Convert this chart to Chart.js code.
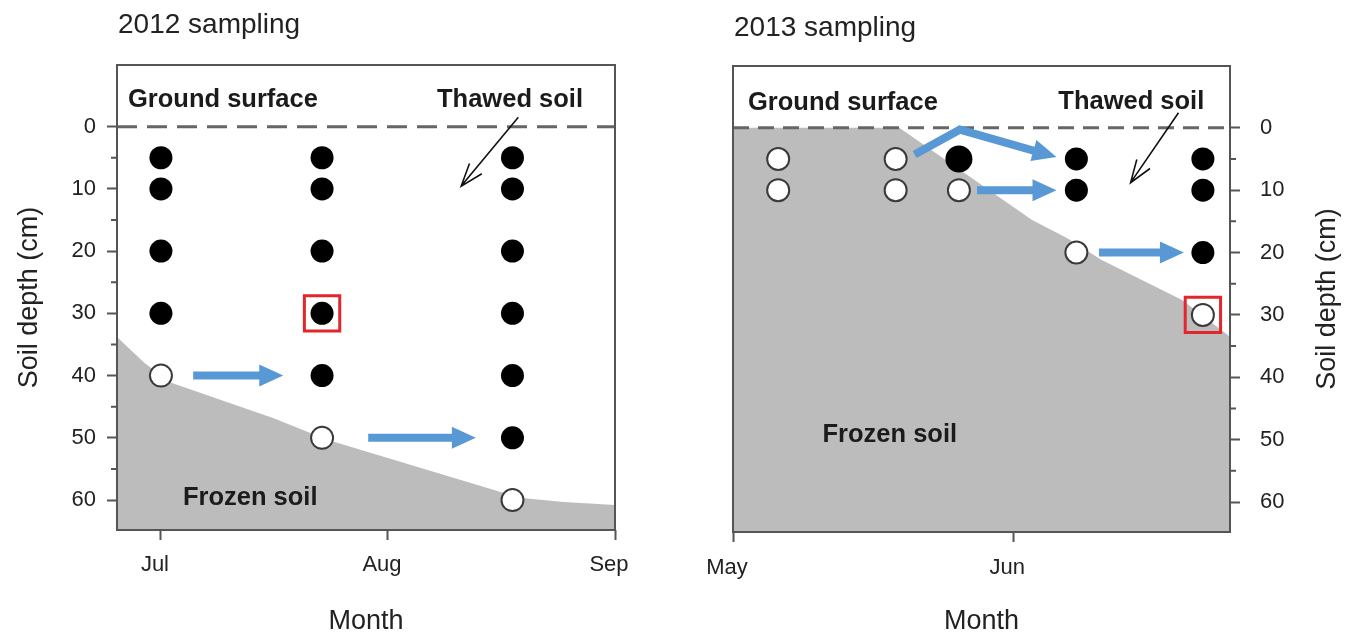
<!DOCTYPE html>
<html>
<head>
<meta charset="utf-8">
<title>Soil thaw sampling 2012 / 2013</title>
<script src="https://cdn.jsdelivr.net/npm/chart.js@4.4.1/dist/chart.umd.min.js"></script>
<style>
  body { margin: 0; background: #fff; }
  #wrap { position: relative; width: 1358px; height: 636px; }
  canvas { position: absolute; top: 0; }
  #chart2012 { left: 0; }
  #chart2013 { left: 680px; }
</style>
</head>
<body>
<div id="wrap">
  <canvas id="chart2012" width="680" height="636"></canvas>
  <canvas id="chart2013" width="678" height="636"></canvas>
</div>
<script>
// x values are day of year, y values are soil depth in cm
const depthTicks = [0, 10, 20, 30, 40, 50, 60];
const minorDepthTicks = [5, 15, 25, 35, 45, 55];
const groundDepth = 0;

// 2012 (leap year): Jul 1 = 183
const monthTicks2012 = [183, 214, 245];
const monthLabels2012 = ['Jul', 'Aug', 'Sep'];
const sampleDays2012 = [183, 205, 231]; // Jul 1, Jul 23, Aug 18
const thawedDepths2012 = [[5, 10, 20, 30], [5, 10, 20, 30, 40], [5, 10, 20, 30, 40, 50]];
const frozenDepths2012 = [[40], [50], [60]];
const highlight2012 = [[205, 30]];
const frostDays2012 = [177, 180.8, 184.5, 198.3, 205.7, 232, 238, 245];
const frostDepths2012 = [33.8, 38, 41.2, 46.8, 50.3, 59.6, 60.3, 60.8];

// 2013: May 1 = 121
const monthTicks2013 = [121, 152];
const monthLabels2013 = ['May', 'Jun'];
const sampleDays2013 = [126, 139, 146, 159, 173]; // May 6, May 19, May 26, Jun 8, Jun 22
const thawedDepths2013 = [[], [], [5], [5, 10], [5, 10, 20]];
const frozenDepths2013 = [[5, 10], [5, 10], [10], [20], [30]];
const highlight2013 = [[173, 30]];
const enlarged2013 = [146, 5];
const frostDays2013 = [121, 139.4, 154.1, 158, 161.8, 170.7, 176];
const frostDepths2013 = [0, 0, 14.8, 17.7, 21.2, 27.6, 33.5];

const FONT = '"Liberation Sans", Arial, Helvetica, sans-serif';
Chart.defaults.font.family = FONT;

function toPoints(days, depthLists) {
  const pts = [];
  days.forEach((d, i) => depthLists[i].forEach(z => pts.push({ x: d, y: z })));
  return pts;
}

function drawBlockArrow(ctx, pts, color) {
  const n = pts.length;
  const [tx, ty] = pts[n - 1];
  const [px, py] = pts[n - 2];
  const ang = Math.atan2(ty - py, tx - px);
  const headLen = 24, headHalf = 11;
  const bx = tx - headLen * Math.cos(ang), by = ty - headLen * Math.sin(ang);
  ctx.strokeStyle = color;
  ctx.fillStyle = color;
  ctx.lineWidth = 8;
  ctx.lineJoin = 'miter';
  ctx.lineCap = 'butt';
  ctx.beginPath();
  ctx.moveTo(pts[0][0], pts[0][1]);
  for (let i = 1; i < n - 1; i++) ctx.lineTo(pts[i][0], pts[i][1]);
  ctx.lineTo(bx + Math.cos(ang), by + Math.sin(ang));
  ctx.stroke();
  ctx.beginPath();
  ctx.moveTo(tx, ty);
  ctx.lineTo(bx + headHalf * Math.sin(ang), by - headHalf * Math.cos(ang));
  ctx.lineTo(bx - headHalf * Math.sin(ang), by + headHalf * Math.cos(ang));
  ctx.closePath();
  ctx.fill();
}

function drawLineArrow(ctx, a, b) {
  const ang = Math.atan2(a[1] - b[1], a[0] - b[0]);
  const arm = 24, spread = 0.34;
  ctx.strokeStyle = '#111';
  ctx.lineWidth = 1.6;
  ctx.beginPath();
  ctx.moveTo(a[0], a[1]);
  ctx.lineTo(b[0], b[1]);
  ctx.moveTo(b[0] + arm * Math.cos(ang - spread), b[1] + arm * Math.sin(ang - spread));
  ctx.lineTo(b[0], b[1]);
  ctx.lineTo(b[0] + arm * Math.cos(ang + spread), b[1] + arm * Math.sin(ang + spread));
  ctx.stroke();
}

// texts, arrows, frame and minor ticks for one panel
function panelDecor(cfg) {
  return {
    id: 'panelDecor',
    afterDatasetsDraw(chart) {
      const { ctx, scales: { x, y } } = chart;
      const px = p => [x.getPixelForValue(p[0]), y.getPixelForValue(p[1])];
      ctx.save();
      cfg.blueArrows.forEach(a => drawBlockArrow(ctx, a.map(px), '#5899d5'));
      cfg.blackArrows.forEach(a => drawLineArrow(ctx, px(a[0]), px(a[1])));
      ctx.fillStyle = '#1b1b1b';
      ctx.font = 'bold 25.5px ' + FONT;
      ctx.textBaseline = 'alphabetic';
      ctx.textAlign = 'left';
      cfg.labels.forEach(t => {
        const [lx, ly] = px([t.x, t.y]);
        ctx.fillText(t.text, lx, ly);
      });
      ctx.restore();
    },
    afterDraw(chart) {
      const { ctx, chartArea: ca, scales: { y } } = chart;
      ctx.save();
      ctx.strokeStyle = '#555';
      ctx.lineWidth = 2;
      ctx.strokeRect(ca.left, ca.top, ca.right - ca.left, ca.bottom - ca.top);
      // minor depth ticks
      ctx.beginPath();
      minorDepthTicks.forEach(v => {
        const yy = y.getPixelForValue(v);
        const x0 = cfg.yPos === 'left' ? ca.left : ca.right;
        const x1 = cfg.yPos === 'left' ? ca.left - 6 : ca.right + 6;
        ctx.moveTo(x0, yy);
        ctx.lineTo(x1, yy);
      });
      ctx.stroke();
      // panel title
      ctx.fillStyle = '#222';
      ctx.font = '28px ' + FONT;
      ctx.textAlign = 'left';
      ctx.textBaseline = 'alphabetic';
      ctx.fillText(cfg.title, ca.left + 1, cfg.titleBase);
      // depth axis title, reading bottom to top on both sides
      ctx.font = '27px ' + FONT;
      ctx.translate(cfg.yTitleX, (ca.top + ca.bottom) / 2);
      ctx.rotate(-Math.PI / 2);
      ctx.textAlign = 'center';
      ctx.textBaseline = 'middle';
      ctx.fillText('Soil depth (cm)', 0, 0);
      ctx.restore();
    }
  };
}

function buildChart(id, cfg) {
  const depthMin = -9.9, depthMax = 64.8;
  const frost = cfg.frostDays.map((d, i) => ({ x: d, y: cfg.frostDepths[i] }));
  const ground = [{ x: cfg.xMin, y: groundDepth }, { x: cfg.xMax, y: groundDepth }];
  const tickFont = { size: 22, family: FONT };

  new Chart(document.getElementById(id), {
    type: 'scatter',
    data: {
      datasets: [
        {
          type: 'line', data: frost, fill: { value: depthMax },
          backgroundColor: '#bcbcbc', borderWidth: 0, pointRadius: 0, tension: 0, order: 5
        },
        {
          type: 'line', data: ground, fill: false, borderColor: '#666', borderWidth: 3,
          borderDash: cfg.dash, pointRadius: 0, order: 4
        },
        {
          data: toPoints(cfg.sampleDays, cfg.thawed), backgroundColor: '#000', borderColor: '#000',
          borderWidth: 0,
          pointRadius: c => (c.raw && cfg.enlarged && c.raw.x === cfg.enlarged[0] && c.raw.y === cfg.enlarged[1]) ? 13.5 : 11.5,
          order: 3
        },
        {
          data: toPoints(cfg.sampleDays, cfg.frozen), backgroundColor: '#fff', borderColor: '#3a3a3a',
          borderWidth: 2, pointRadius: 11, order: 2
        },
        {
          data: cfg.highlight.map(p => ({ x: p[0], y: p[1] })), pointStyle: 'rect', pointRadius: 25,
          backgroundColor: 'rgba(0,0,0,0)', borderColor: '#e3262b', borderWidth: 3, order: 1
        }
      ]
    },
    options: {
      responsive: false,
      animation: false,
      events: [],
      layout: { padding: cfg.padding },
      plugins: { legend: { display: false }, tooltip: { enabled: false } },
      scales: {
        x: {
          type: 'linear', min: cfg.xMin, max: cfg.xMax,
          afterBuildTicks: s => { s.ticks = cfg.monthTicks.map(v => ({ value: v })); },
          afterFit: s => { s.height = cfg.xHeight; },
          ticks: {
            callback: (v, i) => cfg.monthLabels[i], font: tickFont, color: '#222',
            padding: cfg.xPad, maxRotation: 0, autoSkip: false, labelOffset: -6
          },
          grid: { drawOnChartArea: false, tickLength: 10, tickWidth: 2, tickColor: '#555' },
          border: { display: false },
          title: {
            display: true, text: 'Month', color: '#222',
            font: { size: 27, family: FONT, lineHeight: 1.05 }, padding: { top: 0, bottom: 0 }
          }
        },
        y: {
          type: 'linear', position: cfg.yPos, reverse: true, min: depthMin, max: depthMax,
          afterBuildTicks: s => { s.ticks = depthTicks.map(v => ({ value: v })); },
          afterFit: s => { s.width = cfg.yWidth; },
          ticks: { callback: v => String(v), font: tickFont, color: '#222', padding: cfg.yPad },
          grid: { drawOnChartArea: false, tickLength: 10, tickWidth: 2, tickColor: '#555' },
          border: { display: false }
        }
      }
    },
    plugins: [panelDecor(cfg)]
  });
}

buildChart('chart2012', {
  title: '2012 sampling', titleBase: 33, yPos: 'left', yTitleX: 30,
  xMin: 177, xMax: 245,
  padding: { top: 65, right: 65, bottom: 0, left: 0 }, yWidth: 117, xHeight: 106,
  xPad: 12, yPad: 11, dash: [20, 10],
  monthTicks: monthTicks2012, monthLabels: monthLabels2012,
  sampleDays: sampleDays2012, thawed: thawedDepths2012, frozen: frozenDepths2012,
  highlight: highlight2012, frostDays: frostDays2012, frostDepths: frostDepths2012,
  labels: [
    { text: 'Ground surface', x: 178.5, y: -3.1 },
    { text: 'Thawed soil', x: 220.7, y: -3.1 },
    { text: 'Frozen soil', x: 186, y: 60.8 }
  ],
  blueArrows: [
    [[187.4, 40], [199.7, 40]],
    [[211.3, 50], [226.0, 50]]
  ],
  blackArrows: [[[231.8, -1.5], [224, 9.55]]]
});

buildChart('chart2013', {
  title: '2013 sampling', titleBase: 36, yPos: 'right', yTitleX: 648,
  xMin: 121, xMax: 176,
  padding: { top: 66, right: 0, bottom: 0, left: 53 }, yWidth: 128, xHeight: 104,
  xPad: 13, yPad: 20, dash: [16, 9],
  monthTicks: monthTicks2013, monthLabels: monthLabels2013,
  sampleDays: sampleDays2013, thawed: thawedDepths2013, frozen: frozenDepths2013,
  highlight: highlight2013, enlarged: enlarged2013,
  frostDays: frostDays2013, frostDepths: frostDepths2013,
  labels: [
    { text: 'Ground surface', x: 122.66, y: -2.9 },
    { text: 'Thawed soil', x: 157.0, y: -3.0 },
    { text: 'Frozen soil', x: 130.9, y: 50.4 }
  ],
  blueArrows: [
    [[141.1, 4.3], [146.1, 0.3], [156.8, 4.7]],
    [[148.0, 10], [156.8, 10]],
    [[161.5, 20], [170.9, 20]]
  ],
  blackArrows: [[[170.3, -2.4], [165.0, 8.8]]]
});
</script>
</body>
</html>
